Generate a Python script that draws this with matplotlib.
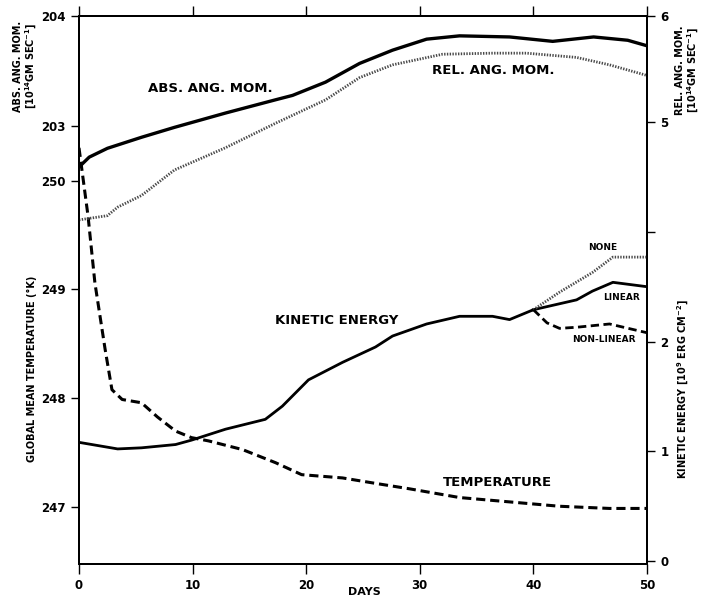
import matplotlib
matplotlib.use('Agg')
import matplotlib.pyplot as plt

plt.rcParams['font.family'] = ['DejaVu Sans']
plt.rcParams['font.weight'] = 'bold'

# absolute angular momentum (10^14 gm sec^-1), left top scale
abs_days = [0, 0.9, 2.5, 5.5, 8.4, 12.9, 17.3, 18.8, 21.7, 24.7, 27.6, 30.6, 33.5, 37.9, 41.7, 45.3, 48.3, 50]
abs_mom = [202.63, 202.72, 202.80, 202.90, 202.99, 203.12, 203.24, 203.28, 203.40, 203.57, 203.69, 203.79,
           203.82, 203.81, 203.77, 203.81, 203.78, 203.73]

# relative angular momentum, right top scale
rel_days = [0, 2.5, 3.4, 5.5, 8.4, 12.9, 17.3, 21.7, 24.7, 27.6, 32.0, 36.4, 39.4, 43.8, 46.7, 50]
rel_mom = [4.08, 4.12, 4.20, 4.31, 4.55, 4.76, 4.99, 5.21, 5.42, 5.54, 5.64, 5.65, 5.65, 5.61, 5.54, 5.44]

# global mean temperature (K)
temp_days = [0, 0.8, 1.4, 2.3, 2.9, 3.8, 5.5, 6.9, 8.5, 9.9, 11.4, 14.4, 17.3, 19.6, 23.2,
             26.1, 29.1, 33.5, 37.9, 42.3, 46.7, 50]
temp = [250.30, 249.67, 249.06, 248.45, 248.08, 247.99, 247.96, 247.83, 247.70, 247.64, 247.61,
        247.53, 247.41, 247.30, 247.27, 247.22, 247.17, 247.09, 247.05, 247.01, 246.99, 246.99]

# kinetic energy (10^9 erg cm^-2), common part up to day 40
ke_days = [0, 3.4, 5.5, 8.5, 9.9, 12.9, 16.4, 17.9, 20.2, 23.2, 26.1, 27.6, 30.6, 33.5, 36.4, 37.9, 40.0]
ke = [1.08, 1.02, 1.03, 1.06, 1.10, 1.20, 1.29, 1.41, 1.65, 1.81, 1.95, 2.05, 2.16, 2.23, 2.23, 2.20, 2.29]

# branches after day 40
lin_days = [40.0, 43.8, 45.2, 47.0, 50]
lin_ke = [2.29, 2.38, 2.46, 2.54, 2.50]
none_days = [40.0, 42.3, 45.2, 47.0, 50]
none_ke = [2.29, 2.45, 2.63, 2.77, 2.77]
nl_days = [40.0, 41.2, 42.3, 43.8, 46.7, 50]
nl_ke = [2.29, 2.17, 2.12, 2.13, 2.16, 2.08]

W, H = 704, 604
fig = plt.figure(figsize=(W / 100, H / 100), dpi=100)
ax = fig.add_axes([79 / W, 1 - 564 / H, 568 / W, 548 / H])

def px(x, y):
    return x / W, 1 - y / H

tick_kw = dict(direction='out', labelsize=8.5, width=1, length=6)

# temperature axis (left)
ax.plot(temp_days, temp, color='black', lw=2.2, linestyle=(0, (3, 1.6)))
ax.set_xlim(0, 50)
ax.set_ylim(246.48, 251.51)
ax.set_yticks([247, 248, 249, 250])
ax.set_xticks([0, 10, 20, 30, 40, 50])
ax.tick_params(axis='both', **tick_kw)
ax.tick_params(axis='x', top=True, labeltop=False, length=7)

# absolute ang. mom. (left, top part)
ax_abs = ax.twinx()
ax_abs.plot(abs_days, abs_mom, color='black', lw=2.4)
ax_abs.set_ylim(199.03, 204)
ax_abs.set_yticks([203, 204])
ax_abs.yaxis.set_ticks_position('left')
ax_abs.yaxis.set_label_position('left')
ax_abs.tick_params(axis='y', **tick_kw)

# relative ang. mom. (right, top part)
ax_rel = ax.twinx()
ax_rel.plot(rel_days, rel_mom, color='#4a4a4a', lw=2.0, linestyle=(0, (0.5, 0.5)))
ax_rel.set_ylim(0.84, 6)
ax_rel.set_yticks([5, 6])
ax_rel.tick_params(axis='y', **tick_kw)

# kinetic energy (right, lower part)
ax_ke = ax.twinx()
ax_ke.plot(ke_days, ke, color='black', lw=2.0)
ax_ke.plot(lin_days, lin_ke, color='black', lw=2.0)
ax_ke.plot(none_days, none_ke, color='#4a4a4a', lw=2.0, linestyle=(0, (0.5, 0.5)))
ax_ke.plot(nl_days, nl_ke, color='black', lw=2.0, linestyle=(0, (3, 1.6)))
ax_ke.set_ylim(-0.03, 4.97)
ax_ke.set_yticks([0, 1, 2, 3])
ax_ke.set_yticklabels(['0', '1', '2', ''])
ax_ke.tick_params(axis='y', **tick_kw)

for a in (ax, ax_abs, ax_rel, ax_ke):
    for s in a.spines.values():
        s.set_linewidth(1.1)

# labels on the curves
fig.text(*px(210, 89), 'ABS. ANG. MOM.', ha='center', va='center', fontsize=9.5)
fig.text(*px(493, 70), 'REL. ANG. MOM.', ha='center', va='center', fontsize=9.5)
fig.text(*px(337, 321), 'KINETIC ENERGY', ha='center', va='center', fontsize=9.5)
fig.text(*px(497, 483), 'TEMPERATURE', ha='center', va='center', fontsize=9.5)
fig.text(*px(603, 248), 'NONE', ha='center', va='center', fontsize=6.5)
fig.text(*px(622, 297), 'LINEAR', ha='center', va='center', fontsize=6.5)
fig.text(*px(604, 340), 'NON-LINEAR', ha='center', va='center', fontsize=6.5)

# axis titles
fig.text(*px(364, 592), 'DAYS', ha='center', va='center', fontsize=8)
fig.text(*px(32, 369), 'GLOBAL MEAN TEMPERATURE (°K)', rotation=90,
         ha='center', va='center', fontsize=7)
fig.text(*px(26, 66), 'ABS. ANG. MOM.\n[10$^{14}$GM SEC$^{-1}$]', rotation=90,
         ha='center', va='center', fontsize=7, linespacing=1.1)
fig.text(*px(688, 70), 'REL. ANG. MOM.\n[10$^{14}$GM SEC$^{-1}$]', rotation=90,
         ha='center', va='center', fontsize=7, linespacing=1.1)
fig.text(*px(683, 389), 'KINETIC ENERGY [10$^{9}$ ERG CM$^{-2}$]', rotation=90,
         ha='center', va='center', fontsize=7)

fig.savefig('out.png', dpi=100)
